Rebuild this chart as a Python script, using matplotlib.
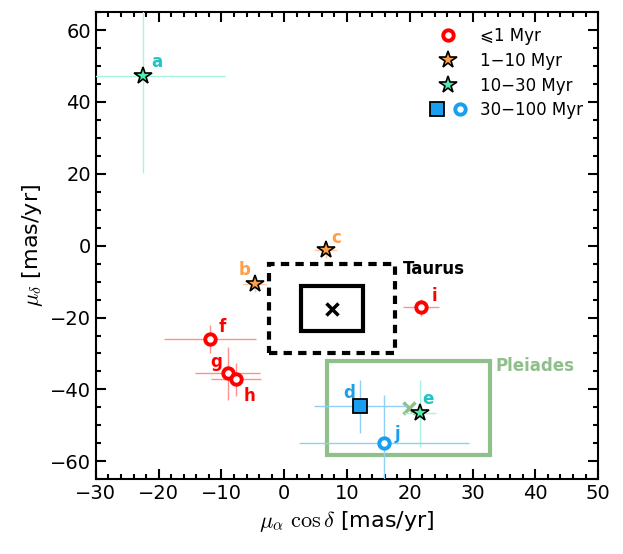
import matplotlib
matplotlib.use("Agg")
import matplotlib.pyplot as plt
from matplotlib.patches import Rectangle
from matplotlib.legend_handler import HandlerTuple
from matplotlib.lines import Line2D
from matplotlib.ticker import MultipleLocator

plt.rcParams['mathtext.fontset'] = 'cm'
plt.rcParams['font.family'] = ['DejaVu Sans']

# data
names = ['a', 'b', 'c', 'd', 'e', 'f', 'g', 'h', 'i', 'j']
pmra = [-22.5, -4.7, 6.6, 12.1, 21.6, -11.8, -9.0, -7.7, 21.8, 15.9]
pmdec = [47.2, -10.8, -1.3, -44.7, -46.6, -26.0, -35.5, -37.2, -17.2, -55.0]
pmra_err = [13.0, 1.8, 1.8, 7.4, 2.6, 7.3, 5.2, 4.0, 2.9, 13.5]
pmdec_err = [27.0, 2.0, 2.0, 7.3, 9.3, 4.0, 7.4, 4.6, 2.5, 13.4]
groups = ['10-30', '1-10', '1-10', '30-100sq', '10-30', '<1', '<1', '<1', '<1', '30-100o']

taurus_center = (7.6, -17.5)
taurus_inner = (5.0, 6.2)
taurus_outer = (10.0, 12.5)
pleiades_center = (19.8, -45.2)
pleiades_half = (13.0, 13.0)

legend_labels = ['⩽1 Myr', '1−10 Myr', '10−30 Myr', '30−100 Myr']

RED = '#ff0000'
ORANGE = '#ff9f4a'
TEAL = '#4ef0b0'
TEALTXT = '#1fc4c4'
BLUE = '#1a9ff0'
GREEN = '#8fbf8a'

style = {
    '<1': dict(marker='o', mfc='white', mec=RED, mew=2.8, ms=7.5, ecol='#ff9090', tcol=RED),
    '1-10': dict(marker='*', mfc=ORANGE, mec='black', mew=1.2, ms=13, ecol='#ffc8a0', tcol=ORANGE),
    '10-30': dict(marker='*', mfc=TEAL, mec='black', mew=1.2, ms=13, ecol='#a8f5dc', tcol=TEALTXT),
    '30-100sq': dict(marker='s', mfc=BLUE, mec='black', mew=1.3, ms=10, ecol='#90d0f5', tcol=BLUE),
    '30-100o': dict(marker='o', mfc='white', mec=BLUE, mew=2.8, ms=7.5, ecol='#90d0f5', tcol=BLUE),
}

label_off = {'a': (2.2, 3.9), 'b': (-1.7, 3.9), 'c': (1.7, 3.4), 'd': (-1.8, 3.6),
             'e': (1.3, 3.8), 'f': (1.9, 3.3), 'g': (-1.9, 3.0), 'h': (2.1, -4.5),
             'i': (2.1, 3.1), 'j': (2.1, 2.7)}

fig = plt.figure(figsize=(6.23, 5.54), dpi=100)
ax = fig.add_axes([0.154, 0.135, 0.806, 0.843])

# boxes
tx, ty = taurus_center
ax.add_patch(Rectangle((tx - taurus_outer[0], ty - taurus_outer[1]), 2 * taurus_outer[0], 2 * taurus_outer[1],
                       fill=False, ec='black', lw=3, ls=(0, (2, 1.5)), zorder=2))
ax.add_patch(Rectangle((tx - taurus_inner[0], ty - taurus_inner[1]), 2 * taurus_inner[0], 2 * taurus_inner[1],
                       fill=False, ec='black', lw=3, zorder=2))
ax.plot([tx], [ty], marker='x', color='black', ms=8, mew=2.5, ls='none', zorder=3)
ax.text(tx + taurus_outer[0] + 1.3, -6.6, 'Taurus', fontsize=12, fontweight='bold',
        color='black', va='center', ha='left')

px, py = pleiades_center
ax.add_patch(Rectangle((px - pleiades_half[0], py - pleiades_half[1]), 2 * pleiades_half[0], 2 * pleiades_half[1],
                       fill=False, ec=GREEN, lw=3, zorder=2))
ax.plot([px], [py], marker='x', color=GREEN, ms=8, mew=2.5, ls='none', zorder=3)
ax.text(px + pleiades_half[0] + 0.8, -33.6, 'Pleiades', fontsize=12, fontweight='bold',
        color=GREEN, va='center', ha='left')

for n, x, y, xe, ye, g in zip(names, pmra, pmdec, pmra_err, pmdec_err, groups):
    s = style[g]
    ax.errorbar([x], [y], xerr=[xe], yerr=[ye], fmt='none', ecolor=s['ecol'], elinewidth=1, capsize=0, zorder=4)
    ax.plot([x], [y], marker=s['marker'], mfc=s['mfc'], mec=s['mec'], mew=s['mew'], ms=s['ms'], ls='none', zorder=5)
    dx, dy = label_off[n]
    ax.text(x + dx, y + dy, n, color=s['tcol'], fontsize=12, fontweight='bold', ha='center', va='center', zorder=6)

ax.set_xlim(-30, 50)
ax.set_ylim(-65, 65)
ax.xaxis.set_major_locator(MultipleLocator(10))
ax.xaxis.set_minor_locator(MultipleLocator(2))
ax.yaxis.set_major_locator(MultipleLocator(20))
ax.yaxis.set_minor_locator(MultipleLocator(5))
ax.tick_params(which='both', direction='in', top=True, right=True, labelsize=14, width=1.5)
ax.tick_params(which='major', length=7)
ax.tick_params(which='minor', length=3.5)
for sp in ax.spines.values():
    sp.set_linewidth(1.5)
ax.set_xlabel(r'$\mu_\alpha\ \cos\delta$ [mas/yr]', fontsize=16)
ax.set_ylabel(r'$\mu_\delta$ [mas/yr]', fontsize=16)

h1 = Line2D([], [], marker='o', mfc='white', mec=RED, mew=2.8, ms=7.5, ls='none')
h2 = Line2D([], [], marker='*', mfc=ORANGE, mec='black', mew=1.2, ms=13, ls='none')
h3 = Line2D([], [], marker='*', mfc=TEAL, mec='black', mew=1.2, ms=13, ls='none')
h4a = Line2D([], [], marker='s', mfc=BLUE, mec='black', mew=1.3, ms=10, ls='none')
h4b = Line2D([], [], marker='o', mfc='white', mec=BLUE, mew=2.8, ms=7.5, ls='none')
ax.legend([h1, h2, h3, (h4a, h4b)], legend_labels, loc='upper right', frameon=False, fontsize=12,
          handler_map={tuple: HandlerTuple(ndivide=None, pad=0.5)}, handlelength=2.2,
          labelspacing=0.4, borderaxespad=0.5)

fig.savefig('out.png', dpi=100)
